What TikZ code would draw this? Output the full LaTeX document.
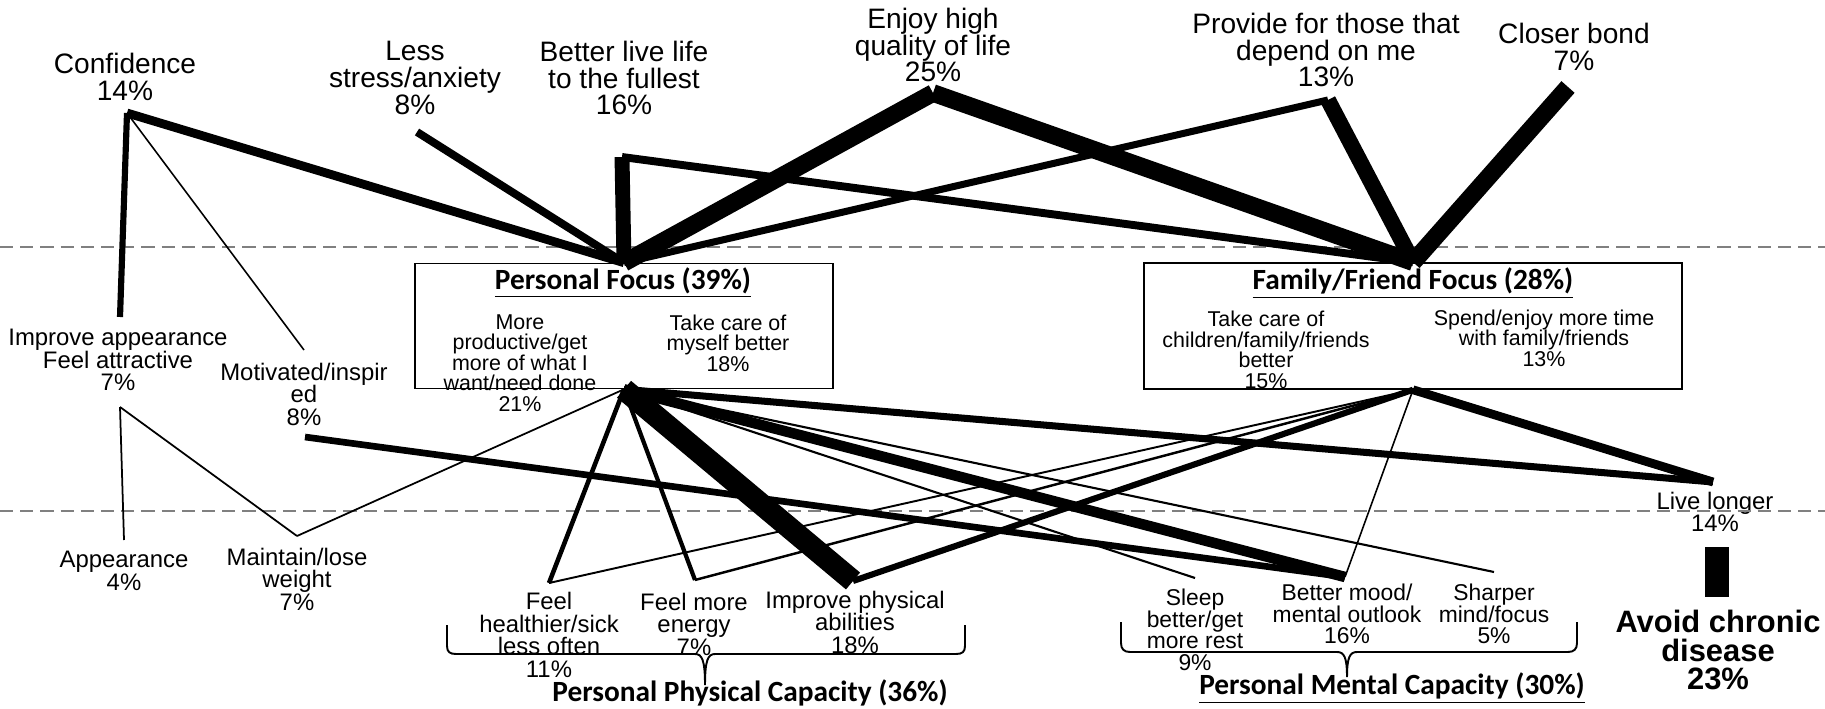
\documentclass[tikz,border=0pt]{standalone}
\usepackage{fontspec}
\setmainfont{Liberation Sans}
\newfontfamily\titelfont{Carlito}
\usepackage{tikz}

\begin{document}
\begin{tikzpicture}[
    x=0.02cm, y=-0.02cm,
    gross/.style={
      align=center,
      inner sep=0pt,
      font=\fontsize{16}{15.2}\selectfont},
    mittel/.style={
      align=center,
      inner sep=0pt,
      font=\fontsize{13.6}{12.8}\selectfont},
    unten/.style={
      align=center,
      inner sep=0pt,
      font=\fontsize{13}{12.3}\selectfont},
    klein/.style={
      align=center,
      inner sep=0pt,
      font=\fontsize{12.2}{11.7}\selectfont},
    titel/.style={
      inner sep=0pt,
      font=\fontsize{16.7}{18}\selectfont\titelfont\bfseries},
    kasten/.style={
      draw,
      rectangle,
      line width=.9pt},
    trenner/.style={
      draw=black!50,
      line width=1.7pt,
      dash pattern=on 7.5pt off 4pt},
    klammer/.style={
      draw,
      line width=1.1pt}
    ]

  \useasboundingbox (0,0) rectangle (1825,709);

  % obere Ziele
  \node at (125,77) (knotenConf) [gross] {Confidence\\14\%};
  \node at (415,78) (knotenStress) [gross] {Less\\stress/anxiety\\8\%};
  \node at (624,78) (knotenLeben) [gross] {Better live life\\to the fullest\\16\%};
  \node at (933,45) (knotenGenuss) [gross] {Enjoy high\\quality of life\\25\%};
  \node at (1326,50) (knotenVersorgen) [gross] {Provide for those that\\depend on me\\13\%};
  \node at (1574,47) (knotenBindung) [gross] {Closer bond\\7\%};

  % Kaesten
  \node at (624,326) (kastenPF) [kasten, minimum width=8.36cm, minimum height=2.5cm] {};
  \node at (623,283) (titelPF) [titel] {\underline{Personal Focus (39\%)}};
  \node at (520,363) (knotenProduktiv) [klein] {More\\productive/get\\more of what I\\want/need done\\21\%};
  \node at (728,343) (knotenSelbst) [klein] {Take care of\\myself better\\18\%};

  \node at (1413,326) (kastenFF) [kasten, minimum width=10.76cm, minimum height=2.52cm] {};
  \node at (1413,283) (titelFF) [titel] {\underline{Family/Friend Focus (28\%)}};
  \node at (1266,350) (knotenFuersorge) [klein] {Take care of\\children/family/friends\\better\\15\%};
  \node at (1544,338) (knotenZeit) [klein] {Spend/enjoy more time\\with family/friends\\13\%};

  % links
  \node at (118,360) (knotenAussehen) [mittel] {Improve appearance\\Feel attractive\\7\%};
  \node at (304,394) (knotenMotiv) [mittel] {Motivated/inspir\\ed\\8\%};
  \node at (124,571) (knotenErscheinung) [mittel] {Appearance\\4\%};
  \node at (297,579) (knotenGewicht) [mittel] {Maintain/lose\\weight\\7\%};

  % unten
  \node at (549,635) (knotenGesund) [mittel] {Feel\\healthier/sick\\less often\\11\%};
  \node at (694,624) (knotenEnergie) [mittel] {Feel more\\energy\\7\%};
  \node at (855,622) (knotenPhysis) [mittel] {Improve physical\\abilities\\18\%};
  \node at (1195,630) (knotenSchlaf) [unten] {Sleep\\better/get\\more rest\\9\%};
  \node at (1347,614) (knotenStimmung) [unten] {Better mood/\\mental outlook\\16\%};
  \node at (1494,614) (knotenGeist) [unten] {Sharper\\mind/focus\\5\%};
  \node at (1715,512) (knotenLaenger) [mittel] {Live longer\\14\%};
  \node at (1718,650) (knotenChronisch) [align=center, inner sep=0pt, font=\fontsize{17.6}{16.2}\selectfont\bfseries] {Avoid chronic\\disease\\23\%};

  \node at (750,695) (titelPhysis) [titel] {\underline{Personal Physical Capacity (36\%)}};
  \node at (1392,688) (titelGeist) [titel] {\underline{Personal Mental Capacity (30\%)}};

  % Endpunkte
  \coordinate (confEnde) at (127,113);
  \coordinate (stressEnde) at (417,132);
  \coordinate (lebenEnde) at (622,157);
  \coordinate (genussEnde) at (933,93);
  \coordinate (versorgenEnde) at (1328,100);
  \coordinate (bindungEnde) at (1568,87);
  \coordinate (aussehenOben) at (120,317);
  \coordinate (aussehenUnten) at (120,407);
  \coordinate (motivOben) at (304,350);
  \coordinate (motivUnten) at (305,437);
  \coordinate (erscheinungOben) at (124,540);
  \coordinate (gewichtOben) at (297,536);
  \coordinate (gesundOben) at (549,583);
  \coordinate (energieOben) at (695,580);
  \coordinate (physisOben) at (853,581);
  \coordinate (schlafOben) at (1195,578);
  \coordinate (stimmungOben) at (1345,577);
  \coordinate (geistOben) at (1494,572);
  \coordinate (laengerOben) at (1713,482);
  \coordinate (laengerUnten) at (1717,547);
  \coordinate (chronischOben) at (1717,597);

  \path [trenner] (0,247) -- (1825,247);
  \path [trenner] (0,511) -- (1825,511);

  % oben
  \path (confEnde) edge [line width=5pt] (kastenPF.north);
  \path (stressEnde) edge [line width=4.5pt] (kastenPF.north);
  \path (lebenEnde) edge [line width=8.5pt] (kastenPF.north);
  \path (lebenEnde) edge [line width=4.5pt] (kastenFF.north);
  \path (genussEnde) edge [line width=10pt] (kastenPF.north);
  \path (genussEnde) edge [line width=10pt] (kastenFF.north);
  \path (versorgenEnde) edge [line width=4pt] (kastenPF.north);
  \path (versorgenEnde) edge [line width=9pt] (kastenFF.north);
  \path (bindungEnde) edge [line width=10pt] (kastenFF.north);

  % links
  \path (confEnde) edge [line width=3.5pt] (aussehenOben);
  \path (confEnde) edge [line width=.9pt] (motivOben);
  \path (aussehenUnten) edge [line width=1pt] (erscheinungOben);
  \path (aussehenUnten) edge [line width=1pt] (gewichtOben);
  \path (gewichtOben) edge [line width=1pt] (kastenPF.south);
  \path (motivUnten) edge [line width=3.8pt] (stimmungOben);

  % unten
  \path (kastenPF.south) edge [line width=2.6pt] (gesundOben);
  \path (kastenPF.south) edge [line width=2.4pt] (energieOben);
  \path (kastenPF.south) edge [line width=12.5pt] (physisOben);
  \path (kastenPF.south) edge [line width=1.2pt] (schlafOben);
  \path (kastenPF.south) edge [line width=6pt] (stimmungOben);
  \path (kastenPF.south) edge [line width=1.2pt] (geistOben);
  \path (kastenPF.south) edge [line width=4pt] (laengerOben);
  \path (kastenFF.south) edge [line width=1.1pt] (gesundOben);
  \path (kastenFF.south) edge [line width=1.4pt] (energieOben);
  \path (kastenFF.south) edge [line width=3.5pt] (physisOben);
  \path (kastenFF.south) edge [line width=.9pt] (stimmungOben);
  \path (kastenFF.south) edge [line width=5pt] (laengerOben);
  \path (laengerUnten) edge [line width=13.7pt] (chronischOben);

  % Klammern
  \path [klammer] (447,625) -- (447,646) .. controls (447,652) and (450,654) .. (456,654)
    -- (695,654) .. controls (702,654) and (705,660) .. (705,685)
    .. controls (705,660) and (708,654) .. (715,654) -- (956,654)
    .. controls (962,654) and (965,652) .. (965,646) -- (965,625);
  \path [klammer] (1121,622) -- (1121,643) .. controls (1121,649) and (1124,652) .. (1130,652)
    -- (1337,652) .. controls (1344,652) and (1347,657) .. (1347,677)
    .. controls (1347,657) and (1350,652) .. (1357,652) -- (1568,652)
    .. controls (1574,652) and (1577,649) .. (1577,643) -- (1577,622);

\end{tikzpicture}
\end{document}
